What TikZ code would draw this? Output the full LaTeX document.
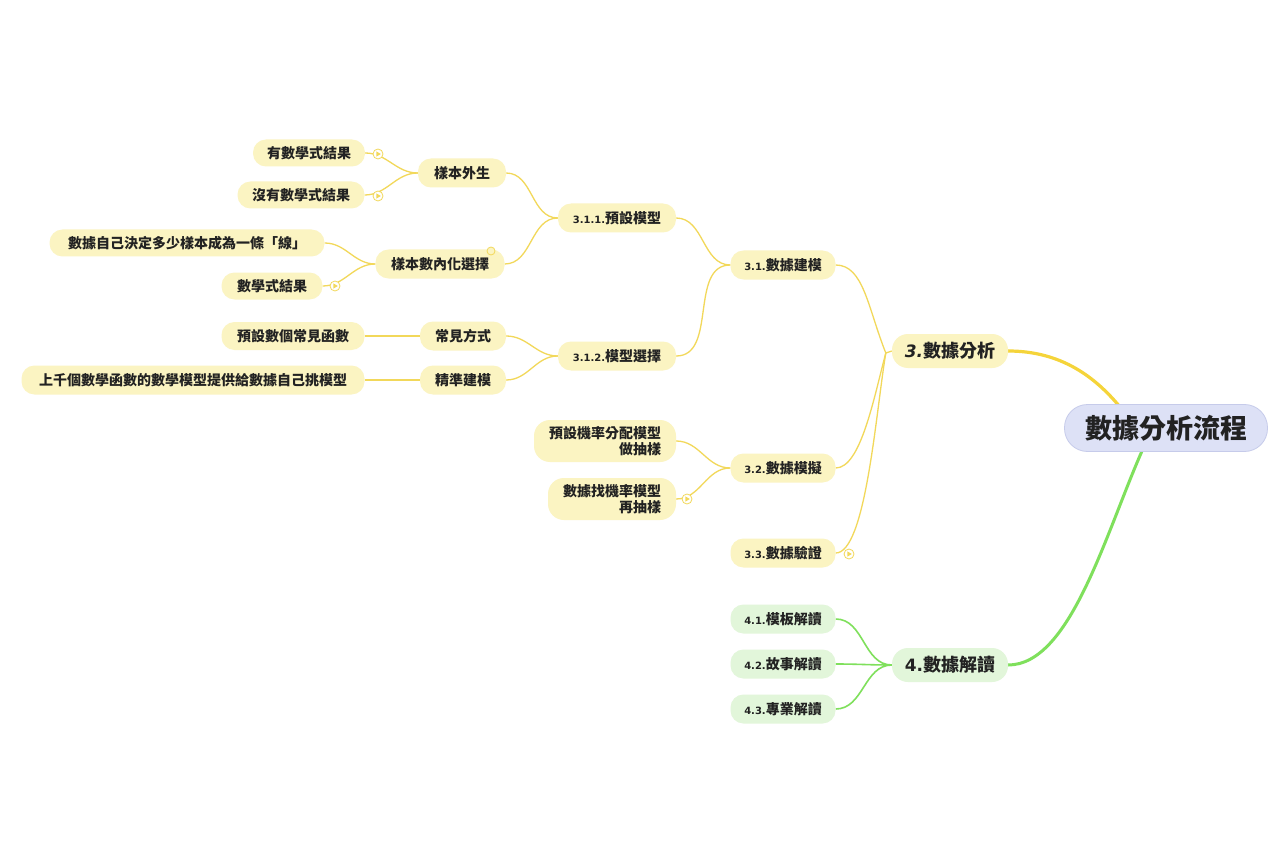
\documentclass[tikz,border=0pt]{standalone}
\usepackage{fontspec}
\usetikzlibrary{calc,backgrounds}
\newfontfamily\cjk{Noto Sans CJK TC}
\newfontfamily\numf{DejaVu Sans}
\definecolor{ylw}{HTML}{FBF4C2}
\definecolor{ylwline}{HTML}{F2D85A}
\definecolor{ylwthick}{HTML}{F5D43A}
\definecolor{grn}{HTML}{E2F6DA}
\definecolor{grnline}{HTML}{7FE05C}
\definecolor{rootfill}{HTML}{DDE1F6}
\definecolor{rootdraw}{HTML}{C6CBEA}
\definecolor{txt}{HTML}{222222}
\tikzset{
  base/.style={rounded corners=13, minimum height=29, inner sep=0pt, text=txt,
    font=\cjk\bfseries\fontsize{14}{17}\selectfont},
  ynode/.style={base, fill=ylw},
  gnode/.style={base, fill=grn},
  lvlone/.style={rounded corners=16, minimum height=34, minimum width=116, inner sep=0pt, text=txt,
    font=\cjk\bfseries\fontsize{18}{20}\selectfont},
  rootnode/.style={rounded corners=23, minimum height=47, minimum width=203, inner sep=0pt,
    fill=rootfill, draw=rootdraw, line width=0.8pt, text=txt,
    font=\cjk\bfseries\fontsize{27}{30}\selectfont},
  yline/.style={draw=ylwline, line width=1.3pt},
  gline/.style={draw=grnline, line width=1.6pt},
  icon/.style={circle, draw=ylwline, fill=white, line width=0.8pt, minimum size=10pt, inner sep=0pt},
}
\newcommand{\nm}[1]{{\numf\bfseries\fontsize{10}{12}\selectfont #1}}
\begin{document}
\begin{tikzpicture}[x=1pt,y=-1pt]
\useasboundingbox (0,0) rectangle (1280,853);

% ---------- nodes ----------
\node[rootnode] (root) at (1166,428) {數據分析流程};
\node[lvlone, fill=ylw] (n3) at (950,351) {{\numf\bfseries\itshape\fontsize{17}{20}\selectfont 3.}數據分析};
\node[lvlone, fill=grn] (n4) at (950,665) {{\numf\bfseries\fontsize{17}{20}\selectfont 4.}數據解讀};

\node[ynode, minimum width=105] (n31) at (783,265) {\nm{3.1.}數據建模};
\node[ynode, minimum width=105] (n32) at (783,468) {\nm{3.2.}數據模擬};
\node[ynode, minimum width=105] (n33) at (783,553) {\nm{3.3.}數據驗證};

\node[ynode, minimum width=118] (n311) at (617,218) {\nm{3.1.1.}預設模型};
\node[ynode, minimum width=118] (n312) at (617,356) {\nm{3.1.2.}模型選擇};

\node[ynode, minimum width=88] (wsh) at (462,173) {樣本外生};
\node[ynode, minimum width=129] (nei) at (440,264) {樣本數內化選擇};
\node[ynode, minimum width=112, minimum height=27] (a1) at (309,153) {有數學式結果};
\node[ynode, minimum width=127, minimum height=27] (a2) at (301,195) {沒有數學式結果};
\node[ynode, minimum width=275, minimum height=27] (b1) at (187,243) {數據自己決定多少樣本成為一條「線」};
\node[ynode, minimum width=101, minimum height=27] (b2) at (272,286) {數學式結果};

\node[ynode, minimum width=86] (cj) at (463,336) {常見方式};
\node[ynode, minimum width=86] (jz) at (463,380) {精準建模};
\node[ynode, minimum width=143, minimum height=28] (c1) at (293,336) {預設數個常見函數};
\node[ynode, minimum width=343, minimum height=29] (d1) at (193,380) {上千個數學函數的數學模型提供給數據自己挑模型};

\node[ynode, minimum width=142, minimum height=42, rounded corners=16, align=right,
  font=\cjk\bfseries\fontsize{14}{16}\selectfont] (s1) at (605,441) {預設機率分配模型\\做抽樣};
\node[ynode, minimum width=128, minimum height=42, rounded corners=16, align=right,
  font=\cjk\bfseries\fontsize{14}{16}\selectfont] (s2) at (612,499) {數據找機率模型\\再抽樣};

\node[gnode, minimum width=105] (n41) at (783,619) {\nm{4.1.}模板解讀};
\node[gnode, minimum width=105] (n42) at (783,664) {\nm{4.2.}故事解讀};
\node[gnode, minimum width=105] (n43) at (783,709) {\nm{4.3.}專業解讀};

\coordinate (rt) at (1120,407);
\coordinate (rb) at (1142,451);

% ---------- connectors ----------
\begin{scope}[on background layer]
\fill[white] (0,0) rectangle (1280,853);
\draw[ylwthick, line width=3.2pt, line cap=round] (n3.east) .. controls (1062,351) and (1096,378) .. (rt);
\draw[grnline, line width=3pt, line cap=round] (n4.east) .. controls (1070,665) and (1105,535) .. (rb);

\draw[yline] (n31.east) .. controls +(28,0) and +(-18,-45) .. ($(n3.west)+(-6,2)$) -- (n3.west);
\draw[yline] (n32.east) .. controls +(25,0) and +(-12,45) .. ($(n3.west)+(-6,2)$);
\draw[yline] (n33.east) .. controls +(30,0) and +(-10,60) .. ($(n3.west)+(-6,2)$);

\draw[yline] (n311.east) to[out=0,in=180] (n31.west);
\draw[yline] (n312.east) to[out=0,in=180] (n31.west);

\draw[yline] (wsh.east) to[out=0,in=180] (n311.west);
\draw[yline] (nei.east) to[out=0,in=180] (n311.west);

\draw[yline] (a1.east) to[out=0,in=180] (wsh.west);
\draw[yline] (a2.east) to[out=0,in=180] (wsh.west);
\draw[yline] (b1.east) to[out=0,in=180] (nei.west);
\draw[yline] (b2.east) to[out=0,in=180] (nei.west);

\draw[yline] (cj.east) to[out=0,in=180] (n312.west);
\draw[yline] (jz.east) to[out=0,in=180] (n312.west);
\draw[yline] (c1.east) -- (cj.west);
\draw[yline] (d1.east) -- (jz.west);

\draw[yline] (s1.east) to[out=0,in=180] (n32.west);
\draw[yline] (s2.east) to[out=0,in=180] (n32.west);

\draw[gline] (n41.east) to[out=0,in=180] (n4.west);
\draw[gline] (n42.east) to[out=0,in=180] (n4.west);
\draw[gline] (n43.east) to[out=0,in=180] (n4.west);
\end{scope}

% ---------- collapse icons ----------
\foreach \ic/\px/\py in {i1/378/154, i2/378/196, i3/335/286, i4/687/499, i5/849/554}{
  \node[icon] (\ic) at (\px,\py) {};
  \fill[ylwline] ($(\ic)+(-1.6,-2.6)$) -- ($(\ic)+(2.8,0)$) -- ($(\ic)+(-1.6,2.6)$) -- cycle;
}
\node[circle, fill=ylw, draw=ylwline, line width=0.8pt, minimum size=8pt, inner sep=0pt] (dot) at (491,251) {};
\end{tikzpicture}
\end{document}
